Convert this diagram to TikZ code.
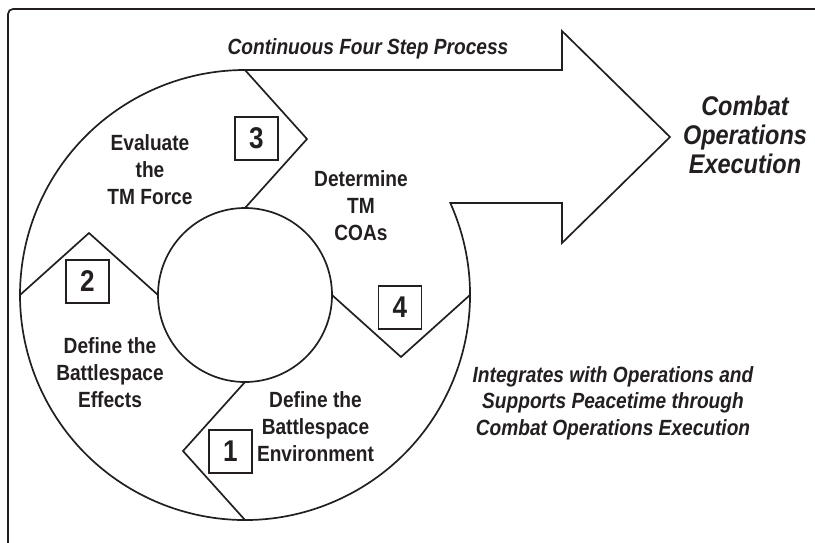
\documentclass[tikz,border=0pt]{standalone}
\usepackage{fontspec}
\setmainfont{Liberation Sans}[FakeStretch=0.87]
\definecolor{ink}{RGB}{35,31,32}
\begin{document}
\begin{tikzpicture}[x=1pt,y=-1pt,
  outline/.style={draw=ink,line width=1.7pt,line join=miter},
  numbox/.style={draw=ink,line width=1.7pt,minimum size=43pt,inner sep=0pt,
    font=\fontsize{30}{30}\selectfont\bfseries,text=ink},
  steptext/.style={align=center,inner sep=0pt,text=ink,
    font=\fontsize{22}{27}\selectfont\bfseries},
  bigtext/.style={align=center,inner sep=0pt,text=ink,
    font=\fontsize{27}{29}\selectfont\bfseries\itshape},
  notetext/.style={align=center,inner sep=0pt,text=ink,
    font=\fontsize{22}{26.5}\selectfont\bfseries\itshape}]
\path[use as bounding box] (0,0) rectangle (815,542);
\clip (0,0) rectangle (815,542);
% frame
\draw[ink,line width=1.7pt,rounded corners=5pt] (8,560) -- (8,9) -- (830,9);
% centre and key points
\coordinate (c) at (245,295);
\coordinate (otop) at (245,70);
\coordinate (oleft) at (20,295);
\coordinate (obot) at (245,520);
\coordinate (oright) at (470,295);
\coordinate (itop) at (245,208);
\coordinate (ileft) at (158,295);
\coordinate (ibot) at (245,382);
\coordinate (iright) at (332,295);
% outer shape with arrow
\draw[outline] (otop) -- (562,70) -- (562,31) -- (670,137) -- (562,243)
  -- (562,203) -- (450.3,202.95) arc[start angle=-24.15,end angle=270,radius=225] -- cycle;
% inner circle
\draw[outline] (c) circle[radius=87];
% dividers
\draw[outline] (otop) -- (307,139) -- (itop);
\draw[outline] (oleft) -- (89,233) -- (ileft);
\draw[outline] (ibot) -- (183,451) -- (obot);
\draw[outline] (iright) -- (401,357) -- (oright);
% numbered boxes
\node[numbox] (b3) at (256.5,138.5) {3};
\node[numbox] (b2) at (87.5,281.5) {2};
\node[numbox] (b1) at (230.5,451.5) {1};
\node[numbox] (b4) at (400,307.5) {4};
% step texts
\node[steptext] (t3) at (150,170) {Evaluate\\the\\TM Force};
\node[steptext] (t2) at (110,373) {Define the\\Battlespace\\Effects};
\node[steptext] (t1) at (315.5,427) {Define the\\Battlespace\\Environment};
\node[steptext] (t4) at (361,206) {Determine\\TM\\COAs};
% other texts
\node[notetext,anchor=base] (proc) at (368,54) {Continuous Four Step Process};
\node[bigtext] (coe) at (745,135) {Combat\\Operations\\Execution};
\node[notetext] (integ) at (613,403) {Integrates with Operations and\\Supports Peacetime through\\Combat Operations Execution};
\end{tikzpicture}
\end{document}
